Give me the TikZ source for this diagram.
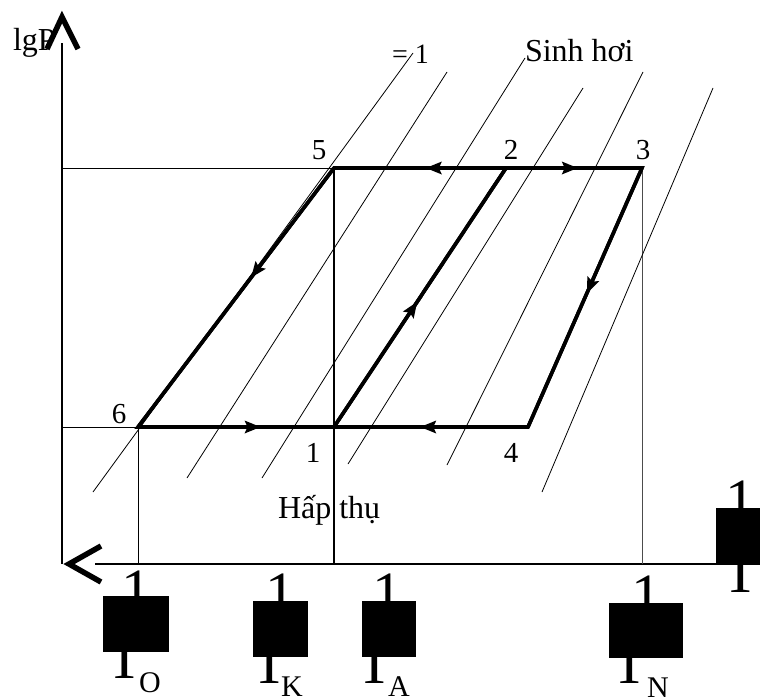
\documentclass[tikz,border=0pt]{standalone}
\usepackage{fontspec}
\setmainfont{Liberation Serif}
\usetikzlibrary{decorations.markings}
\begin{document}
\begin{tikzpicture}[x=1pt,y=-1pt,
  thinline/.style={line width=0.8pt},
  refline/.style={line width=1.1pt},
  axisline/.style={line width=1.6pt},
  glyphstroke/.style={line width=5.5pt,line join=miter,line cap=butt},
  cyc/.style={line width=3.6pt,line join=miter,line cap=butt},
  arrowat/.style={postaction={decorate,decoration={markings,mark=at position #1 with {\fill[draw=none] (-15pt,-6.5pt) -- (1pt,0pt) -- (-15pt,6.5pt) -- (-12pt,0pt) -- cycle;}}}},
  lbl/.style={inner sep=0pt,outer sep=0pt,anchor=base,font=\fontsize{29}{30}\selectfont},
  txt/.style={inner sep=0pt,outer sep=0pt,anchor=base west,font=\fontsize{32}{33}\selectfont},
  big/.style={inner sep=0pt,outer sep=0pt,anchor=base,font=\fontsize{60}{62}\selectfont},
  sub/.style={inner sep=0pt,outer sep=0pt,anchor=base west,font=\fontsize{30}{32}\selectfont},
  blk/.style={fill=black,draw=none,inner sep=0pt,outer sep=0pt,anchor=north west},
]
\useasboundingbox (0,0) rectangle (760,696);

% main points
\coordinate (p1) at (334,427);
\coordinate (p2) at (506,168);
\coordinate (p3) at (642,168);
\coordinate (p4) at (528,427);
\coordinate (p5) at (334,168);
\coordinate (p6) at (138,427);
\coordinate (yax) at (62,43);
\coordinate (orig) at (62,564);
\coordinate (xend) at (760,564);
\coordinate (xstart) at (95,564);

% axes
\draw[axisline] (yax) -- (orig);
\draw[axisline] (xstart) -- (xend);

% reference lines
\draw[thinline] (62,168) -- (p5);
\draw[thinline] (62,427) -- (p6);
\draw[thinline] (p6) -- (138,564);
\draw[refline] (p5) -- (334,564);
\draw[thinline,black!70] (p3) -- (642,564);

% isolines
\draw[thinline] (93,492) -- (413,53);
\draw[thinline] (187,478) -- (447,72);
\draw[thinline] (262,478) -- (525,58);
\draw[thinline] (348,464) -- (583,88);
\draw[thinline] (447,465) -- (643,72);
\draw[thinline] (542,492) -- (713,88);

% cycle
\draw[cyc] (p5) -- (p3) -- (p4) -- (p6) -- cycle;
\draw[cyc] (p1) -- (p2);
\draw[cyc,arrowat=0.46] (p2) -- (p5);
\draw[cyc,arrowat=0.52] (p2) -- (p3);
\draw[cyc,arrowat=0.42] (p5) -- (p6);
\draw[cyc,arrowat=0.62] (p6) -- (p1);
\draw[cyc,arrowat=0.55] (p4) -- (p1);
\draw[cyc,arrowat=0.48] (p1) -- (p2);
\draw[cyc,arrowat=0.48] (p3) -- (p4);

% labels
\node[lbl] (l5) at (319,159) {5};
\node[lbl] (l2) at (511,159) {2};
\node[lbl] (l3) at (643,159) {3};
\node[lbl] (l6) at (119,423) {6};
\node[lbl] (l1) at (313,462) {1};
\node[lbl] (l4) at (511,462) {4};
\node[txt] (lgp) at (13,50) {lgP};
\node[txt,font=\fontsize{28}{30}\selectfont] (eq1) at (392,63) {= 1};
\node[txt] (sinh) at (525,61) {Sinh hơi};
\node[txt] (hap) at (278,518) {Hấp thụ};

% axis arrow glyphs
\draw[glyphstroke] (47,49) -- (62,17) -- (78,49);
\draw[glyphstroke] (101,546) -- (69,564) -- (101,582);

% 1/T_O
\begin{scope}\clip (60,540) rectangle (200,596);
\node[big] (oneO) at (136,610) {1};\end{scope}
\node[blk,minimum width=66pt,minimum height=56pt] (boxO) at (103,596) {};
\begin{scope}\clip (60,652) rectangle (200,696);
\node[big] (tO) at (124.5,678) {T};\end{scope}
\node[sub] (sO) at (139,692) {O};

% 1/T_K
\begin{scope}\clip (220,540) rectangle (340,601);
\node[big] (oneK) at (280.5,613) {1};\end{scope}
\node[blk,minimum width=55pt,minimum height=56pt] (boxK) at (253,601) {};
\begin{scope}\clip (220,657) rectangle (340,696);
\node[big] (tK) at (270,683) {T};\end{scope}
\node[sub] (sK) at (281,696) {K};

% 1/T_A
\begin{scope}\clip (340,540) rectangle (450,601);
\node[big] (oneA) at (387.5,613) {1};\end{scope}
\node[blk,minimum width=54pt,minimum height=56pt] (boxA) at (362,601) {};
\begin{scope}\clip (340,657) rectangle (450,696);
\node[big] (tA) at (374.5,683) {T};\end{scope}
\node[sub] (sA) at (388,696) {A};

% 1/T_N
\begin{scope}\clip (580,540) rectangle (700,603);
\node[big] (oneN) at (646.5,615) {1};\end{scope}
\node[blk,minimum width=74pt,minimum height=55pt] (boxN) at (609,603) {};
\begin{scope}\clip (580,658) rectangle (700,696);
\node[big] (tN) at (630,683) {T};\end{scope}
\node[sub] (sN) at (647,697) {N};

% 1/T on the axis
\begin{scope}\clip (700,460) rectangle (760,508);
\node[big] (oneT) at (740.5,520) {1};\end{scope}
\node[blk,minimum width=50pt,minimum height=57pt] (boxT) at (716,508) {};
\begin{scope}\clip (700,565) rectangle (760,620);
\node[big] (tT) at (740.5,592) {T};\end{scope}
\end{tikzpicture}
\end{document}
